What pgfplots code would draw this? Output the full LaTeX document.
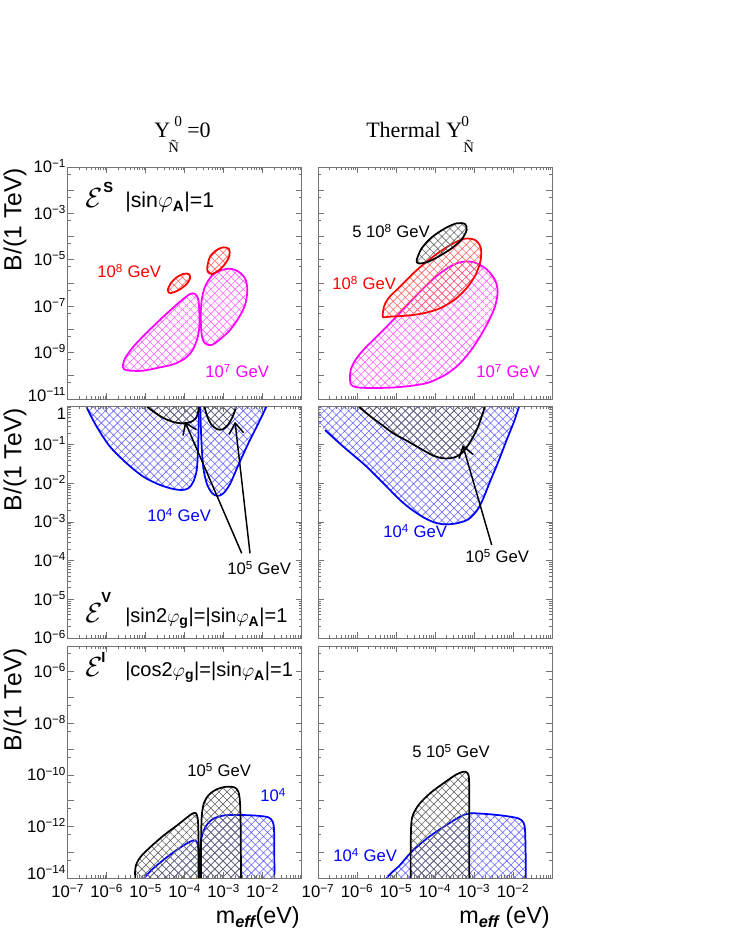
\documentclass[border=0pt]{standalone}
\usepackage{fontspec}
\setmainfont{Liberation Sans}
\newfontfamily\serif{Liberation Serif}
\usepackage{pgfplots}
\pgfplotsset{compat=1.18}
\usetikzlibrary{patterns.meta,arrows.meta}
\definecolor{pmag}{RGB}{255,0,255}
\definecolor{pred}{RGB}{255,0,0}
\definecolor{pblue}{RGB}{0,0,255}
\newcommand\ex[1]{10\textsuperscript{#1}}
\pgfplotsset{
 paw/.style={
  scale only axis, width=175.5pt, height=174pt, anchor=south west,
  xmin=-7, xmax=-1,
  xtick={-7,-6,-5,-4,-3,-2,-1},
  minor xtick={-6.699,-6.523,-6.398,-6.301,-6.222,-6.155,-6.097,-6.046,
   -5.699,-5.523,-5.398,-5.301,-5.222,-5.155,-5.097,-5.046,
   -4.699,-4.523,-4.398,-4.301,-4.222,-4.155,-4.097,-4.046,
   -3.699,-3.523,-3.398,-3.301,-3.222,-3.155,-3.097,-3.046,
   -2.699,-2.523,-2.398,-2.301,-2.222,-2.155,-2.097,-2.046,
   -1.699,-1.523,-1.398,-1.301,-1.222,-1.155,-1.097,-1.046},
  xticklabel=\empty, yticklabel=\empty,
  axis line style={draw=black!55, line width=0.7pt},
  every tick/.style={draw=black!55, line width=0.5pt},
  major tick length=4.5pt, minor tick length=2.3pt,
  tick align=inside, axis on top, clip=true,
  ticklabel style={font=\fontsize{12.5}{13}\selectfont},
  yticklabel style={anchor=base east, inner sep=0pt, xshift=-1pt, yshift=-4.5pt},
  xticklabel style={yshift=-1pt},
  every axis plot/.append style={line join=round},
 },
 toprow/.style={ymin=-11, ymax=-1,
  ytick={-11,-10,-9,-8,-7,-6,-5,-4,-3,-2,-1},
  minor ytick={-10.301,-9.301,-8.301,-7.301,-6.301,-5.301,-4.301,-3.301,-2.301,-1.301}},
 midrow/.style={ymin=-6, ymax=0,
  ytick={-6,-5,-4,-3,-2,-1,0},
  minor ytick={-5.699,-5.523,-5.398,-5.301,-5.222,-5.155,-5.097,-5.046,
   -4.699,-4.523,-4.398,-4.301,-4.222,-4.155,-4.097,-4.046,
   -3.699,-3.523,-3.398,-3.301,-3.222,-3.155,-3.097,-3.046,
   -2.699,-2.523,-2.398,-2.301,-2.222,-2.155,-2.097,-2.046,
   -1.699,-1.523,-1.398,-1.301,-1.222,-1.155,-1.097,-1.046,
   -0.699,-0.523,-0.398,-0.301,-0.222,-0.155,-0.097,-0.046}},
 botrow/.style={ymin=-14, ymax=-5,
  ytick={-14,-13,-12,-11,-10,-9,-8,-7,-6,-5},
  minor ytick={-13.301,-12.301,-11.301,-10.301,-9.301,-8.301,-7.301,-6.301,-5.301}},
 reg/.style={draw=#1, line width=1.3pt,
  pattern={Hatch[angle=45,distance=4.3pt,line width=0.45pt]}, pattern color=#1!60},
 regfill/.style={draw=none,
  pattern={Hatch[angle=45,distance=4.3pt,line width=0.45pt]}, pattern color=#1!60},
 bottomx/.style={xticklabels={\ex{−7},\ex{−6},\ex{−5},\ex{−4},\ex{−3},\ex{−2},{}}},
}
\begin{document}
\begin{tikzpicture}[x=0.75pt,y=0.75pt]
\path[use as bounding box] (0,0) rectangle (731,946);

% ---------- top left
\begin{axis}[paw, toprow, at={(50.78pt,410.25pt)},
  yticklabels={\raisebox{2.5pt}{\ex{−11}},{},\ex{−9},{},\ex{−7},{},\ex{−5},{},\ex{−3},{},\ex{−1}}]
\addplot[reg=pmag, smooth cycle] coordinates {(-5.590,-9.606) (-5.530,-9.247) (-5.316,-8.744) (-4.974,-8.141) (-4.547,-7.451) (-4.120,-6.805) (-3.863,-6.474) (-3.735,-6.474) (-3.650,-6.704) (-3.624,-7.307) (-3.624,-7.882) (-3.675,-8.385) (-3.795,-8.888) (-3.991,-9.247) (-4.291,-9.506) (-4.632,-9.635) (-5.060,-9.779) (-5.402,-9.779) (-5.556,-9.721)};
\addplot[reg=pmag, smooth cycle] coordinates {(-3.094,-5.468) (-2.838,-5.382) (-2.624,-5.511) (-2.453,-5.799) (-2.393,-6.302) (-2.453,-6.948) (-2.624,-7.523) (-2.838,-8.026) (-3.094,-8.428) (-3.308,-8.672) (-3.479,-8.601) (-3.564,-8.241) (-3.590,-7.451) (-3.564,-6.733) (-3.479,-6.158) (-3.308,-5.698)};
\addplot[reg=pred, smooth cycle] coordinates {(-4.436,-6.302) (-4.359,-6.014) (-4.205,-5.756) (-4.017,-5.598) (-3.889,-5.626) (-3.863,-5.799) (-3.949,-6.043) (-4.120,-6.273) (-4.308,-6.417) (-4.410,-6.417)};
\addplot[reg=pred, smooth cycle] coordinates {(-3.419,-5.296) (-3.350,-4.865) (-3.179,-4.578) (-3.009,-4.463) (-2.863,-4.534) (-2.855,-4.836) (-2.966,-5.181) (-3.137,-5.468) (-3.308,-5.612) (-3.410,-5.511)};
\end{axis}

% ---------- top right
\begin{axis}[paw, toprow, at={(238.5pt,410.25pt)}]
\addplot[reg=pmag, smooth cycle] coordinates {(-6.179,-10.181) (-6.162,-9.750) (-6.051,-9.348) (-5.838,-8.888) (-5.538,-8.385) (-5.197,-7.810) (-4.812,-7.135) (-4.385,-6.374) (-3.957,-5.698) (-3.573,-5.253) (-3.274,-5.080) (-2.974,-5.124) (-2.675,-5.411) (-2.462,-5.871) (-2.393,-6.374) (-2.462,-7.020) (-2.632,-7.667) (-2.846,-8.313) (-3.103,-8.960) (-3.402,-9.534) (-3.744,-9.966) (-4.171,-10.296) (-4.641,-10.440) (-5.154,-10.511) (-5.667,-10.526) (-6.009,-10.497) (-6.145,-10.397)};
\addplot[reg=pred, smooth cycle] coordinates {(-5.342,-7.422) (-5.308,-7.020) (-5.197,-6.661) (-4.897,-6.158) (-4.556,-5.583) (-4.214,-5.080) (-3.872,-4.649) (-3.530,-4.290) (-3.231,-4.089) (-2.974,-4.147) (-2.829,-4.463) (-2.829,-5.009) (-2.949,-5.612) (-3.171,-6.187) (-3.487,-6.704) (-3.872,-7.092) (-4.299,-7.307) (-4.726,-7.408) (-5.154,-7.451) (-5.308,-7.480)};
\addplot[reg=black, smooth cycle] coordinates {(-4.470,-5.009) (-4.342,-4.506) (-4.085,-4.032) (-3.744,-3.644) (-3.444,-3.428) (-3.231,-3.457) (-3.188,-3.716) (-3.316,-4.118) (-3.573,-4.506) (-3.915,-4.865) (-4.214,-5.109) (-4.427,-5.152)};
\end{axis}

% ---------- middle left
\begin{axis}[paw, midrow, at={(50.78pt,231pt)},
  yticklabels={\ex{−6},\ex{−5},\ex{−4},\ex{−3},\ex{−2},\ex{−1},\raisebox{-5.5pt}{1}}]
\addplot[reg=pblue, smooth] coordinates {(-6.598,0.241) (-6.530,0) (-6.256,-0.534) (-5.915,-1.052) (-5.487,-1.483) (-5.060,-1.828) (-4.632,-2.043) (-4.291,-2.147) (-4.077,-2.172) (-3.906,-2.129) (-3.778,-1.957) (-3.692,-1.655) (-3.658,-1.138) (-3.641,-0.448) (-3.632,0.241)};
\addplot[reg=pblue, smooth] coordinates {(-3.607,0.241) (-3.590,-0.448) (-3.564,-1.052) (-3.521,-1.612) (-3.436,-2.000) (-3.308,-2.241) (-3.162,-2.328) (-3.009,-2.259) (-2.838,-2.017) (-2.624,-1.526) (-2.368,-0.966) (-2.111,-0.448) (-1.897,0) (-1.795,0.241)};
\addplot[reg=black, smooth] coordinates {(-5.060,0.241) (-4.974,0) (-4.761,-0.172) (-4.547,-0.310) (-4.291,-0.414) (-4.051,-0.448) (-3.846,-0.414) (-3.709,-0.310) (-3.650,-0.121) (-3.632,0.241)};
\addplot[reg=black, smooth] coordinates {(-3.521,0.241) (-3.496,0) (-3.419,-0.276) (-3.308,-0.491) (-3.162,-0.603) (-3.026,-0.603) (-2.880,-0.474) (-2.752,-0.233) (-2.684,0) (-2.650,0.241)};
\end{axis}

% ---------- middle right
\begin{axis}[paw, midrow, at={(238.5pt,231pt)}]
\addplot[regfill=pblue, smooth] coordinates {(-7.4,-0.25) (-6.821,-0.621) (-6.350,-1.052) (-5.752,-1.569) (-5.239,-2.086) (-4.897,-2.431) (-4.641,-2.647) (-4.299,-2.879) (-4.000,-3.017) (-3.744,-3.060) (-3.444,-3.034) (-3.145,-2.931) (-2.915,-2.690) (-2.761,-2.388) (-2.590,-1.957) (-2.376,-1.440) (-2.162,-0.879) (-1.974,-0.405) (-1.838,0) (-1.752,0.241) (-1.6,0.6) (-7.4,0.6)};
\addplot[draw=pblue, line width=1.3pt, smooth] coordinates {(-6.821,-0.621) (-6.350,-1.052) (-5.752,-1.569) (-5.239,-2.086) (-4.897,-2.431) (-4.641,-2.647) (-4.299,-2.879) (-4.000,-3.017) (-3.744,-3.060) (-3.444,-3.034) (-3.145,-2.931) (-2.915,-2.690) (-2.761,-2.388) (-2.590,-1.957) (-2.376,-1.440) (-2.162,-0.879) (-1.974,-0.405) (-1.838,0) (-1.752,0.241)};
\addplot[reg=black, smooth] coordinates {(-6.094,0.241) (-5.966,0) (-5.667,-0.259) (-5.325,-0.517) (-5.068,-0.707) (-4.726,-0.897) (-4.385,-1.095) (-4.043,-1.284) (-3.786,-1.353) (-3.530,-1.336) (-3.316,-1.224) (-3.120,-0.966) (-2.932,-0.621) (-2.803,-0.276) (-2.718,0) (-2.658,0.241)};
\end{axis}

% ---------- bottom left
\begin{axis}[paw, botrow, bottomx, at={(50.78pt,51pt)},
  yticklabels={\raisebox{3.5pt}{\ex{−14}},{},\ex{−12},{},\ex{−10},{},\ex{−8},{},\ex{−6},{}}]
\addplot[reg=pblue, smooth] coordinates {(-5.103,-14.3) (-5.043,-14.013) (-4.803,-13.625) (-4.462,-13.199) (-4.120,-12.824) (-3.880,-12.604) (-3.744,-12.539) (-3.675,-12.655) (-3.650,-12.979) (-3.641,-14.3)};
\addplot[reg=pblue, smooth] coordinates {(-3.615,-14.3) (-3.607,-12.914) (-3.564,-12.397) (-3.453,-11.983) (-3.265,-11.699) (-2.966,-11.569) (-2.581,-11.556) (-2.154,-11.582) (-1.855,-11.647) (-1.744,-11.815) (-1.709,-12.138) (-1.701,-13.173) (-1.701,-14.3)};
\addplot[reg=black, smooth] coordinates {(-5.274,-14.3) (-5.270,-13.690) (-5.231,-13.431) (-5.128,-13.173) (-4.889,-12.811) (-4.547,-12.358) (-4.205,-11.970) (-3.949,-11.660) (-3.795,-11.492) (-3.709,-11.492) (-3.667,-11.686) (-3.650,-12.138) (-3.641,-13.173) (-3.641,-14.3)};
\addplot[reg=black, smooth] coordinates {(-3.581,-14.3) (-3.581,-12.785) (-3.564,-11.621) (-3.504,-11.078) (-3.368,-10.755) (-3.162,-10.548) (-2.923,-10.457) (-2.726,-10.483) (-2.624,-10.651) (-2.581,-11.104) (-2.564,-12.138) (-2.556,-14.3)};
\end{axis}

% ---------- bottom right
\begin{axis}[paw, botrow, bottomx, at={(238.5pt,51pt)}]
\addplot[reg=pblue, smooth] coordinates {(-5.282,-14.3) (-5.239,-14.013) (-5.111,-13.793) (-4.897,-13.496) (-4.598,-12.979) (-4.171,-12.423) (-3.744,-11.983) (-3.359,-11.621) (-3.103,-11.492) (-2.675,-11.518) (-2.248,-11.582) (-1.863,-11.686) (-1.735,-11.841) (-1.692,-12.138) (-1.675,-13.173) (-1.675,-14.3)};
\addplot[reg=black, smooth] coordinates {(-4.624,-14.3) (-4.624,-12.785) (-4.607,-11.880) (-4.556,-11.518) (-4.402,-11.130) (-4.128,-10.716) (-3.786,-10.328) (-3.462,-9.992) (-3.256,-9.875) (-3.162,-9.940) (-3.128,-10.173) (-3.120,-11.104) (-3.120,-14.3)};
\end{axis}

% ---------- titles
\begin{scope}[every node/.style={inner sep=0pt}]
\node[anchor=base west] at (154,808) {\serif\fontsize{16.5}{16.5}\selectfont Y};
\node[anchor=base west] at (174,819) {\serif\fontsize{11.5}{11.5}\selectfont 0};
\node[anchor=base west] at (168,793) {\serif\fontsize{11}{11}\selectfont Ñ};
\node[anchor=base west] at (187,808) {\serif\fontsize{16.5}{16.5}\selectfont =0};
\node[anchor=base west] at (366,808) {\serif\fontsize{16.5}{16.5}\selectfont Thermal Y};
\node[anchor=base west] at (461,819) {\serif\fontsize{11.5}{11.5}\selectfont 0};
\node[anchor=base west] at (463,793) {\serif\fontsize{11}{11}\selectfont Ñ};

% y labels
\node[rotate=90, anchor=east] at (15,778) {\fontsize{18.5}{18.5}\selectfont B/(1 TeV)};
\node[rotate=90, anchor=east] at (15,538) {\fontsize{18.5}{18.5}\selectfont B/(1 TeV)};
\node[rotate=90, anchor=east] at (15,298) {\fontsize{18.5}{18.5}\selectfont B/(1 TeV)};

% x labels
\node[anchor=base east] at (300,22) {\fontsize{17.5}{17.5}\selectfont m\textsubscript{\bfseries\itshape eff}(eV)};
\node[anchor=base east] at (550,22) {\fontsize{17.5}{17.5}\selectfont m\textsubscript{\bfseries\itshape eff} (eV)};

% panel texts
\node[anchor=base west] at (85,738) {\fontsize{20}{20}\selectfont$\mathcal{E}$};
\node[anchor=base west] at (103,753) {\fontsize{11}{11}\selectfont\bfseries S};
\node[anchor=base west] at (125,738) {\fontsize{16}{16}\selectfont |sin$\varphi$\textsubscript{\bfseries A}|=1};
\node[anchor=base west] at (85,323) {\fontsize{20}{20}\selectfont$\mathcal{E}$};
\node[anchor=base west] at (101,343) {\fontsize{11}{11}\selectfont\bfseries V};
\node[anchor=base west] at (125,323) {\fontsize{15}{15}\selectfont |sin2$\varphi$\textsubscript{\bfseries g}|=|sin$\varphi$\textsubscript{\bfseries A}|=1};
\node[anchor=base west] at (85,269) {\fontsize{20}{20}\selectfont$\mathcal{E}$};
\node[anchor=base west] at (101,283) {\fontsize{11}{11}\selectfont\bfseries I};
\node[anchor=base west] at (125,269) {\fontsize{15}{15}\selectfont |cos2$\varphi$\textsubscript{\bfseries g}|=|sin$\varphi$\textsubscript{\bfseries A}|=1};

% annotations
\begin{scope}[every node/.append style={font=\fontsize{12.5}{13}\selectfont, anchor=base west}]
\node[text=pred] at (97,668) {\ex{8} GeV};
\node[text=pmag] at (205,568) {\ex{7} GeV};
\node[text=black] at (352,708) {5 \ex{8} GeV};
\node[text=pred] at (332,656) {\ex{8} GeV};
\node[text=pmag] at (476,568) {\ex{7} GeV};
\node[text=pblue] at (147,424) {\ex{4} GeV};
\node[text=black] at (227,371) {\ex{5} GeV};
\node[text=pblue] at (383,408) {\ex{4} GeV};
\node[text=black] at (465,383) {\ex{5} GeV};
\node[text=black] at (187,169) {\ex{5} GeV};
\node[text=pblue] at (260,144) {\ex{4}};
\node[text=black] at (412,188) {5 \ex{5} GeV};
\node[text=pblue] at (333,84) {\ex{4} GeV};
\end{scope}
\end{scope}

% arrows
\begin{scope}[line width=1.1pt, -{Straight Barb[length=8pt,width=11pt]}]
\draw (241.7,392.7) -- (185,524.3);
\draw (250,392.7) -- (235,524.3);
\draw (491.7,401) -- (462.7,501);
\end{scope}
\end{tikzpicture}
\end{document}
